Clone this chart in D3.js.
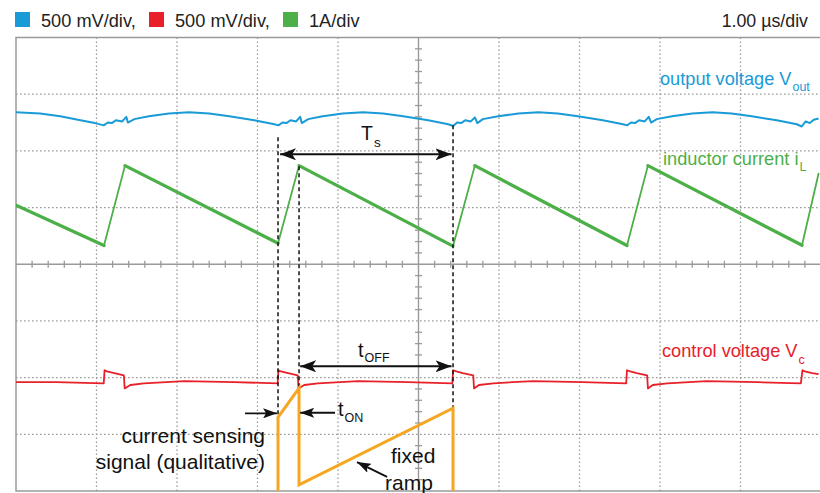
<!DOCTYPE html>
<html><head><meta charset="utf-8">
<script src="https://cdn.jsdelivr.net/npm/d3@7"></script>
<style>
body{margin:0;background:#fff}
svg{display:block}
text{font-family:"Liberation Sans",Arial,Helvetica,sans-serif}
</style>
</head><body>
<svg id="c" width="820" height="493"></svg>
<script>
// ---------- DATA ----------
const timeDomain = [0, 10];          // µs (1.00 µs/div, 10 divisions)
const divDomain = [-4, 4];           // vertical divisions
const legendLabels = ["500 mV/div,", "500 mV/div,", "1A/div"];
const legendColors = ["#1a9ad6", "#e8202a", "#4caf48"];
const timebaseLabel = "1.00 \u00b5s/div";

// output voltage Vout (blue) [t µs, div]
const vOut = [
 [0,2.68],[0.30,2.66],[0.55,2.61],[0.80,2.54],[0.98,2.49],[1.09,2.45],
 [1.14,2.50],[1.19,2.49],[1.24,2.54],[1.32,2.52],[1.37,2.60],[1.39,2.50],[1.47,2.56],[1.65,2.61],[1.90,2.66],[2.15,2.68],[2.40,2.66],[2.65,2.61],[2.96,2.54],[3.21,2.47],
 [3.26,2.45],[3.31,2.50],[3.36,2.49],[3.41,2.54],[3.48,2.52],[3.53,2.60],[3.55,2.49],[3.63,2.56],[3.81,2.61],[4.06,2.66],[4.31,2.68],[4.56,2.66],[4.81,2.61],[5.12,2.54],[5.37,2.47],
 [5.43,2.44],[5.48,2.50],[5.53,2.49],[5.58,2.54],[5.65,2.52],[5.70,2.59],[5.73,2.49],[5.80,2.56],[5.99,2.61],[6.24,2.66],[6.49,2.68],[6.73,2.66],[6.98,2.61],[7.29,2.54],[7.54,2.47],
 [7.59,2.45],[7.64,2.50],[7.69,2.49],[7.74,2.54],[7.81,2.52],[7.86,2.60],[7.89,2.50],[7.96,2.56],[8.15,2.61],[8.40,2.66],[8.65,2.68],[8.89,2.66],[9.14,2.61],[9.45,2.54],[9.70,2.47],
 [9.76,2.43],[9.81,2.52],[9.86,2.49],[9.91,2.55],[9.97,2.57]
];
// inductor current iL (green) [t µs, div]
const iL = [
 [0,1.04],[1.093,0.33],[1.354,1.74],[3.255,0.37],[3.516,1.74],[5.429,0.32],
 [5.70,1.74],[7.59,0.33],[7.85,1.74],[9.764,0.335],[9.97,1.60]
];
// control voltage Vc (red) [t µs, div]
const vC = [
 [0,-2.08],[0.5,-2.08],[1.09,-2.10],[1.10,-1.87],[1.13,-1.89],[1.22,-1.92],[1.34,-1.96],[1.35,-2.19],[1.42,-2.13],[1.59,-2.10],[2.09,-2.06],[2.71,-2.08],[3.25,-2.10],
 [3.26,-1.87],[3.29,-1.89],[3.38,-1.92],[3.50,-1.96],[3.51,-2.19],[3.58,-2.13],[3.75,-2.10],[4.25,-2.06],[4.87,-2.08],[5.42,-2.10],
 [5.43,-1.87],[5.47,-1.89],[5.55,-1.92],[5.68,-1.96],[5.69,-2.19],[5.75,-2.13],[5.93,-2.10],[6.42,-2.06],[7.04,-2.08],[7.58,-2.10],
 [7.59,-1.87],[7.63,-1.89],[7.71,-1.92],[7.84,-1.96],[7.85,-2.19],[7.91,-2.13],[8.09,-2.10],[8.58,-2.06],[9.21,-2.08],[9.75,-2.10],
 [9.77,-1.87],[9.80,-1.89],[9.89,-1.92],[9.97,-1.94]
];
// current sensing signal + fixed ramp (orange, qualitative)
const senseSignal = [
 [3.255,-4.0],[3.255,-2.70],[3.516,-2.185],[3.516,-3.89],[5.429,-2.54],[5.429,-4.0]
];
// dashed markers [t, fromDiv, toDiv]
const dashMarkers = [[3.255,2.24,-2.70],[3.516,1.73,-2.185],[5.429,2.45,-2.54]];
// timing arrows
const tsArrow = {t0:3.28, t1:5.41, v:1.94};
const tOffArrow = {t0:3.53, t1:5.41, v:-1.80};
const tOnArrows = [{from:[2.845,-2.63], to:[3.243,-2.63]},{from:[3.963,-2.62], to:[3.53,-2.62]}];
const rampArrow = {from:[4.61,-3.75], to:[4.236,-3.49]};

// ---------- DRAW ----------
const svg = d3.select("#c");
const L=16, R=821, T=37.5, B=491;
const x = d3.scaleLinear().domain(timeDomain).range([L,R]);
const y = d3.scaleLinear().domain(divDomain).range([B,T]);
const gridColor = "#9a9a9a";

// legend
const leg = svg.append("g");
let lx = 15;
const legW = [134, 134, 80];
legendLabels.forEach((lab,i)=>{
  leg.append("rect").attr("x",lx).attr("y",12).attr("width",15).attr("height",15).attr("fill",legendColors[i]);
  leg.append("text").attr("x",lx+26).attr("y",27).attr("font-size",18.2).attr("fill","#222").text(lab);
  lx += legW[i];
});
svg.append("text").attr("x",808).attr("y",27).attr("text-anchor","end").attr("font-size",17.8).attr("fill","#222").text(timebaseLabel);

// grid
const g = svg.append("g");
const vTicks = d3.range(1,10).filter(d=>d!==5);
const hTicks = d3.range(-3,4).filter(d=>d!==0);
g.selectAll(".vg").data(vTicks).join("line")
 .attr("x1",d=>x(d)).attr("x2",d=>x(d)).attr("y1",T).attr("y2",B)
 .attr("stroke",gridColor).attr("stroke-width",1.3).attr("stroke-dasharray","1.6,2.4");
g.selectAll(".hg").data(hTicks).join("line")
 .attr("x1",L).attr("x2",R).attr("y1",d=>y(d)).attr("y2",d=>y(d))
 .attr("stroke",gridColor).attr("stroke-width",1.3).attr("stroke-dasharray","1.6,2.4");
// center cross
g.append("line").attr("x1",x(5)).attr("x2",x(5)).attr("y1",T).attr("y2",B).attr("stroke",gridColor).attr("stroke-width",1.4);
g.append("line").attr("x1",L).attr("x2",R).attr("y1",y(0)).attr("y2",y(0)).attr("stroke",gridColor).attr("stroke-width",1.4);
const minorX = d3.range(1,50).map(d=>d*0.2).filter(d=>Math.abs(d-Math.round(d))>0.01);
const minorY = d3.range(-19,20).map(d=>d*0.2).filter(d=>Math.abs(Math.round(d)-d)>0.01);
g.selectAll(".mx").data(minorX).join("line")
 .attr("x1",d=>x(d)).attr("x2",d=>x(d)).attr("y1",y(0)-3.5).attr("y2",y(0)+3.5)
 .attr("stroke",gridColor).attr("stroke-width",1.3);
g.selectAll(".my").data(minorY).join("line")
 .attr("y1",d=>y(d)).attr("y2",d=>y(d)).attr("x1",x(5)-3.5).attr("x2",x(5)+3.5)
 .attr("stroke",gridColor).attr("stroke-width",1.3);
// frame
g.append("rect").attr("x",L).attr("y",T).attr("width",R-L).attr("height",B-T)
 .attr("fill","none").attr("stroke",gridColor).attr("stroke-width",1.5);

// clip
svg.append("clipPath").attr("id","clip").append("rect").attr("x",L).attr("y",T).attr("width",R-L).attr("height",B-T+3);
const plot = svg.append("g").attr("clip-path","url(#clip)");
const line = d3.line().x(d=>x(d[0])).y(d=>y(d[1]));

// blue Vout
plot.append("path").attr("d",line(vOut)).attr("fill","none").attr("stroke","#1a9ad6").attr("stroke-width",2).attr("stroke-linejoin","round");
// red Vc
plot.append("path").attr("d",line(vC)).attr("fill","none").attr("stroke","#e8202a").attr("stroke-width",1.8).attr("stroke-linejoin","round");
// green iL segments (thicker while falling - noise)
const segs = d3.pairs(iL);
plot.selectAll(".il").data(segs).join("line")
 .attr("x1",d=>x(d[0][0])).attr("y1",d=>y(d[0][1])).attr("x2",d=>x(d[1][0])).attr("y2",d=>y(d[1][1]))
 .attr("stroke","#4caf48").attr("stroke-linecap","round")
 .attr("stroke-width",d=>d[1][1]<d[0][1]?3.3:1.8);

// dashed markers
plot.selectAll(".dm").data(dashMarkers).join("line")
 .attr("x1",d=>x(d[0])).attr("x2",d=>x(d[0])).attr("y1",d=>y(d[1])).attr("y2",d=>y(d[2]))
 .attr("stroke","#111").attr("stroke-width",1.5).attr("stroke-dasharray","4,3");

// orange
plot.append("path").attr("d",line(senseSignal)).attr("fill","none").attr("stroke","#f5a623").attr("stroke-width",3).attr("stroke-linejoin","miter");

// arrow markers
const defs = svg.append("defs");
defs.append("marker").attr("id","ah").attr("viewBox","0 0 16 12").attr("refX",16).attr("refY",6)
 .attr("markerWidth",16).attr("markerHeight",12).attr("markerUnits","userSpaceOnUse").attr("orient","auto-start-reverse")
 .append("path").attr("d","M0,0 L16,6 L0,12 L4,6 Z").attr("fill","#111");
defs.append("marker").attr("id","ahs").attr("viewBox","0 0 14 10").attr("refX",14).attr("refY",5)
 .attr("markerWidth",14).attr("markerHeight",10).attr("markerUnits","userSpaceOnUse").attr("orient","auto-start-reverse")
 .append("path").attr("d","M0,0 L14,5 L0,10 L3,5 Z").attr("fill","#111");

const ann = svg.append("g");
function dbl(a){
  ann.append("line").attr("x1",x(a.t0)).attr("x2",x(a.t1)).attr("y1",y(a.v)).attr("y2",y(a.v))
   .attr("stroke","#111").attr("stroke-width",2).attr("marker-start","url(#ah)").attr("marker-end","url(#ah)");
}
dbl(tsArrow); dbl(tOffArrow);
tOnArrows.concat([rampArrow]).forEach(a=>{
  ann.append("line").attr("x1",x(a.from[0])).attr("y1",y(a.from[1])).attr("x2",x(a.to[0])).attr("y2",y(a.to[1]))
   .attr("stroke","#111").attr("stroke-width",1.8).attr("marker-end","url(#ahs)");
});

// text labels
function sublabel(px,py,main,sub,color,fs,sfs,dy){
  const t = ann.append("text").attr("x",px).attr("y",py).attr("font-size",fs).attr("fill",color);
  t.append("tspan").text(main);
  t.append("tspan").attr("font-size",sfs).attr("dy",dy).attr("dx",1).text(sub);
  return t;
}
sublabel(660,85,"output voltage V","out","#1a9ad6",18.2,12.5,6);
sublabel(663,165,"inductor current i","L","#4caf48",18.2,12.5,6);
sublabel(662,357,"control voltage V","c","#e8202a",18.2,12.5,7);
sublabel(361,140,"T","s","#111",19.5,13.5,7);
sublabel(358,357,"t","OFF","#111",20,12.5,5);
sublabel(338,416,"t","ON","#111",20,12.5,6);

ann.append("text").attr("x",265).attr("y",443).attr("text-anchor","end").attr("font-size",21).attr("fill","#111").text("current sensing");
ann.append("text").attr("x",265).attr("y",469).attr("text-anchor","end").attr("font-size",21).attr("fill","#111").text("signal (qualitative)");
ann.append("text").attr("x",391).attr("y",463).attr("font-size",21).attr("fill","#111").text("fixed");
ann.append("text").attr("x",385).attr("y",490).attr("font-size",21).attr("fill","#111").text("ramp");
</script>
</body></html>
